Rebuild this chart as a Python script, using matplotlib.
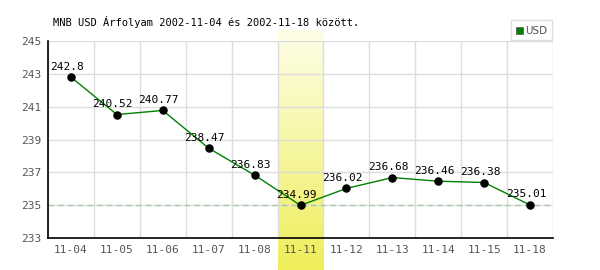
import matplotlib
matplotlib.use("Agg")
import matplotlib.pyplot as plt
import numpy as np
from matplotlib.colors import LinearSegmentedColormap
from matplotlib.patches import Rectangle

dates = ["11-04", "11-05", "11-06", "11-07", "11-08", "11-11",
         "11-12", "11-13", "11-14", "11-15", "11-18"]
values = [242.8, 240.52, 240.77, 238.47, 236.83, 234.99,
          236.02, 236.68, 236.46, 236.38, 235.01]
value_labels = ["242.8", "240.52", "240.77", "238.47", "236.83", "234.99",
                "236.02", "236.68", "236.46", "236.38", "235.01"]
yticks = [233, 235, 237, 239, 241, 243, 245]
highlight_index = 5
ref_level = 235
title = "MNB USD Árfolyam 2002-11-04 és 2002-11-18 között."
legend_label = "USD"

W, H = 600, 270
fig = plt.figure(figsize=(6, 2.7), dpi=100)
mono = "DejaVu Sans Mono"

ax_l, ax_r, ax_t, ax_b = 48, 553, 41, 238
ax = fig.add_axes([ax_l / W, 1 - ax_b / H, (ax_r - ax_l) / W, (ax_b - ax_t) / H])
ax.set_xlim(-0.5, len(dates) - 0.5)
ax.set_ylim(yticks[0], yticks[-1])
ax.patch.set_alpha(0)

# highlight band (gradient), spanning beyond axes
px_per = (ax_r - ax_l) / len(dates)
hx0 = ax_l + highlight_index * px_per
hx1 = hx0 + px_per
hy0, hy1 = 30, 270
bax = fig.add_axes([hx0 / W, 1 - hy1 / H, (hx1 - hx0) / W, (hy1 - hy0) / H], zorder=-5)
grad = np.linspace(0, 1, 256).reshape(-1, 1)
cmap = LinearSegmentedColormap.from_list("hl", ["#fdfde8", "#f6f6a0", "#eeee5a"])
bax.imshow(grad, aspect="auto", cmap=cmap, extent=[0, 1, 0, 1], origin="upper")
bax.axis("off")

# grid
for y in yticks:
    ax.axhline(y, color="#dddddd", lw=1, zorder=1)
for i in range(len(dates) + 1):
    ax.axvline(i - 0.5, color="#dddddd", lw=1, zorder=1)
ax.axhline(ref_level, color="#a8c8a8", lw=1, ls=(0, (4, 3)), zorder=2)

x = np.arange(len(dates))
ax.plot(x, values, color="#008000", lw=1, zorder=3)
ax.scatter(x, values, s=26, color="black", zorder=4)
for xi, v, t in zip(x, values, value_labels):
    ax.annotate(t, (xi, v), xytext=(-3, 4), textcoords="offset points",
                ha="center", va="bottom", fontsize=8, family=mono, color="black", zorder=5)

for s in ["top", "right"]:
    ax.spines[s].set_visible(False)
ax.spines["left"].set_color("black")
ax.spines["bottom"].set_color("black")
ax.spines["left"].set_linewidth(1.2)
ax.spines["bottom"].set_linewidth(1.2)

ax.set_xticks(x)
ax.set_xticklabels(dates, family=mono, fontsize=8, color="#555555")
ax.set_yticks(yticks)
ax.set_yticklabels([str(v) for v in yticks], family=mono, fontsize=8, color="#555555")
ax.tick_params(length=0, pad=5)

fig.text(53 / W, 1 - 22 / H, title, family=mono, fontsize=7.5, color="black",
         ha="left", va="center")

# legend box
lx0, ly0, lx1, ly1 = 511, 20, 552, 40
fig.patches.append(Rectangle((lx0 / W, 1 - ly1 / H), (lx1 - lx0) / W, (ly1 - ly0) / H,
                             transform=fig.transFigure, facecolor="white",
                             edgecolor="#dddddd", lw=1, zorder=10))
fig.patches.append(Rectangle((516 / W, 1 - 34 / H), 7 / W, 7 / H,
                             transform=fig.transFigure, facecolor="#008000",
                             edgecolor="#555555", lw=0.5, zorder=11))
fig.text(525 / W, 1 - 30.5 / H, legend_label, fontsize=7.5, color="#555555",
         ha="left", va="center", zorder=12)

fig.savefig("out.png", dpi=100)
